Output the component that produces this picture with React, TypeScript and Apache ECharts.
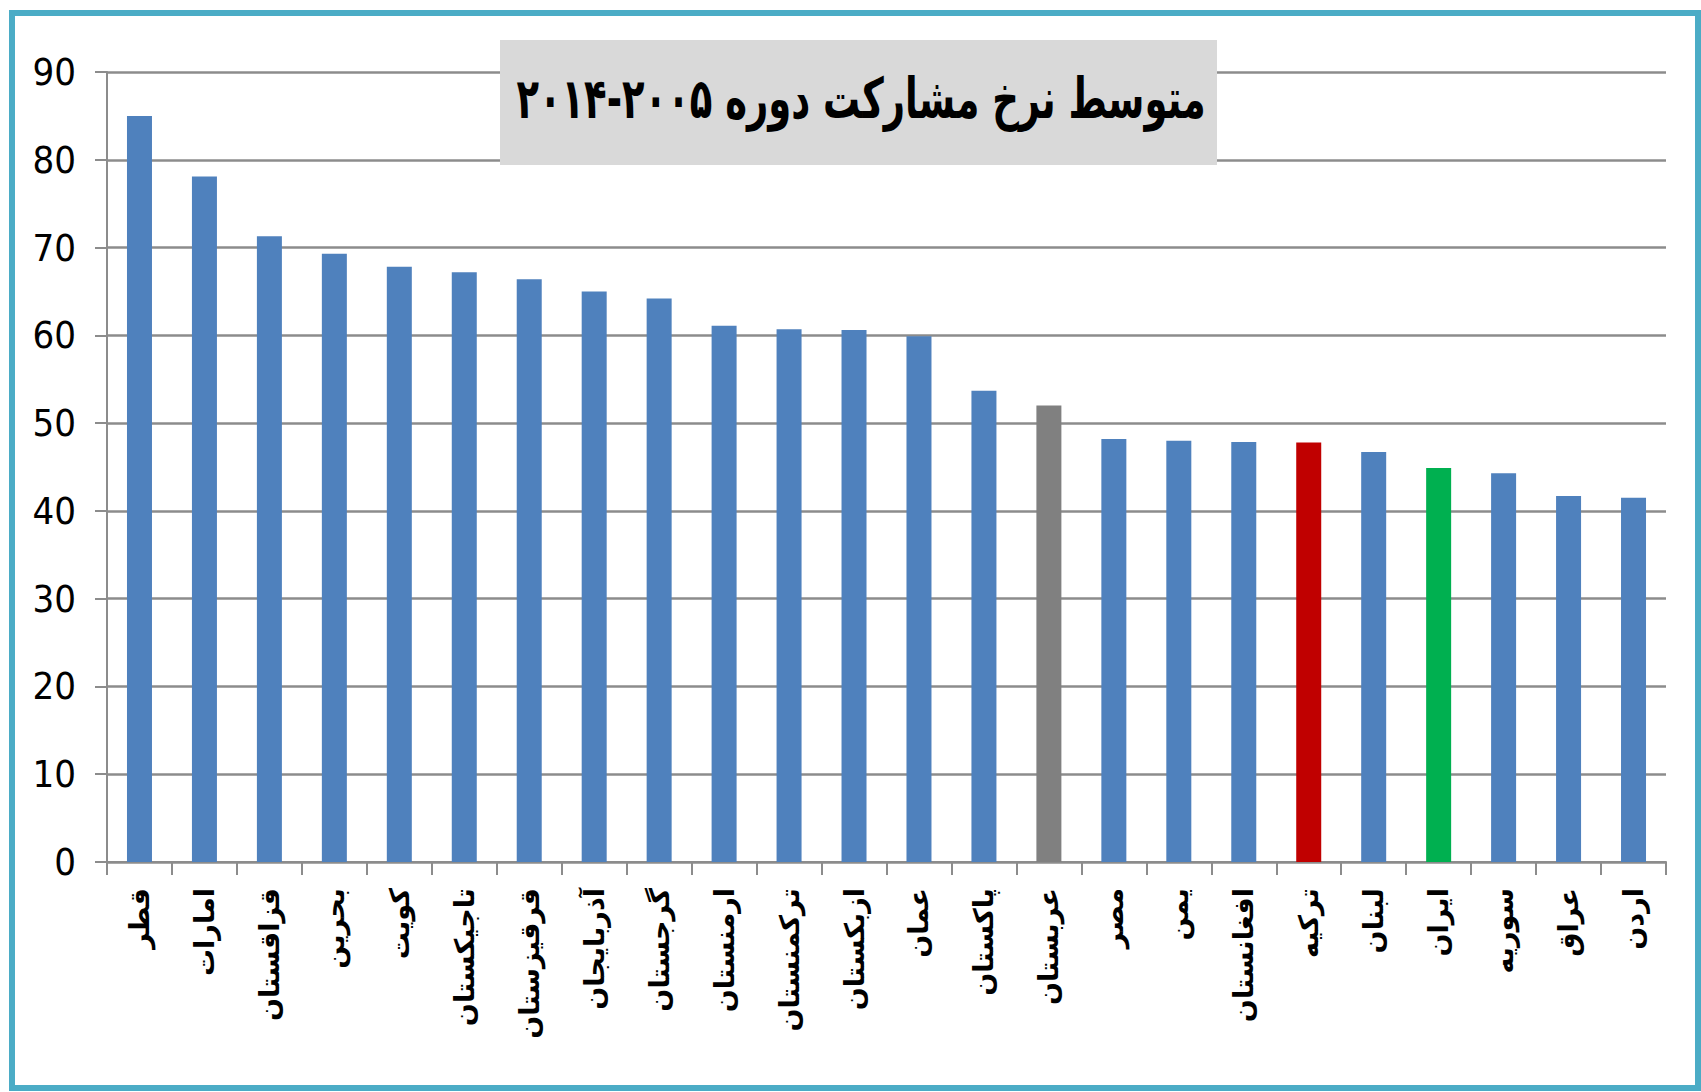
import React, { useEffect, useRef } from "react";
import * as echarts from "echarts";

const categories = [
  "قطر", "امارات", "قزاقستان", "بحرین", "کویت", "تاجیکستان", "قرقیزستان", "آذربایجان",
  "گرجستان", "ارمنستان", "ترکمنستان", "ازبکستان", "عمان", "پاکستان", "عربستان", "مصر",
  "یمن", "افغانستان", "ترکیه", "لبنان", "ایران", "سوریه", "عراق", "اردن",
];
const values = [
  85.0, 78.1, 71.3, 69.3, 67.8, 67.2, 66.4, 65.0,
  64.2, 61.1, 60.7, 60.6, 59.9, 53.7, 52.0, 48.2,
  48.0, 47.85, 47.8, 46.7, 44.9, 44.3, 41.7, 41.5,
];
const titleText = "متوسط نرخ مشارکت دوره ۲۰۰۵-۲۰۱۴";

const BASE_COLOR = "#4F81BD";
const HIGHLIGHT: Record<string, string> = {
  "عربستان": "#808080",
  "ترکیه": "#C00000",
  "ایران": "#00B050",
};

export default function App() {
  const ref = useRef<HTMLDivElement>(null);
  useEffect(() => {
    document.body.style.margin = "0";
    const chart = echarts.init(ref.current!, undefined, { renderer: "svg" });
    chart.setOption({
      animation: false,
      backgroundColor: "#ffffff",
      grid: { left: 107, right: 35, top: 72, bottom: 230, containLabel: false },
      xAxis: {
        type: "category",
        data: categories,
        axisLine: { show: true, lineStyle: { color: "#8C8C8C", width: 2 } },
        axisTick: { show: true, length: 13, alignWithLabel: false, lineStyle: { color: "#8C8C8C", width: 2 } },
        axisLabel: {
          interval: 0,
          rotate: 90,
          margin: 26,
          color: "#000",
          fontSize: 27,
          fontWeight: "bold",
          fontFamily: "DejaVu Sans",
        },
      },
      yAxis: {
        type: "value",
        min: 0,
        max: 90,
        interval: 10,
        axisLine: { show: true, lineStyle: { color: "#8C8C8C", width: 2 } },
        axisTick: { show: true, inside: false, length: 12, lineStyle: { color: "#8C8C8C", width: 2 } },
        splitLine: { show: true, lineStyle: { color: "#8C8C8C", width: 2.5 } },
        axisLabel: {
          margin: 31,
          color: "#000",
          fontSize: 38,
          fontFamily: "'Liberation Sans Narrow', 'DejaVu Sans Condensed', 'Liberation Sans', sans-serif",
        },
      },
      series: [
        {
          type: "bar",
          barWidth: 25,
          data: values.map((v, i) => ({
            value: v,
            itemStyle: { color: HIGHLIGHT[categories[i]] || BASE_COLOR },
          })),
        },
      ],
      graphic: [
        {
          type: "rect",
          z: 100,
          shape: { x: 12, y: 13, width: 1686, height: 1075 },
          style: { fill: "none", stroke: "#4BACC6", lineWidth: 6 },
        },
        {
          type: "rect",
          z: 100,
          shape: { x: 500, y: 40, width: 717, height: 125 },
          style: { fill: "#D9D9D9" },
        },
        {
          type: "text",
          z: 101,
          x: 861,
          y: 99,
          scaleX: 0.66,
          style: {
            text: titleText,
            fill: "#000",
            font: "bold 56px 'DejaVu Sans'",
            align: "center",
            verticalAlign: "middle",
          },
        },
      ],
    });
    return () => chart.dispose();
  }, []);
  return <div ref={ref} style={{ width: 1701, height: 1092 }} />;
}
